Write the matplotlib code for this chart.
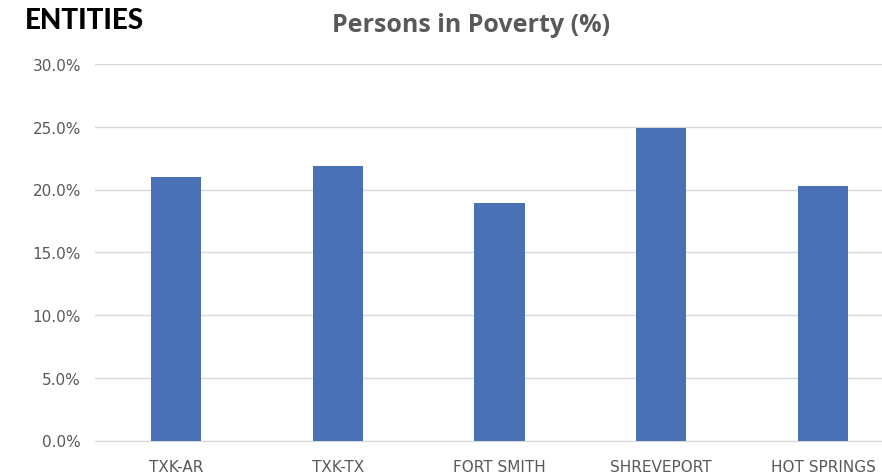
import matplotlib.pyplot as plt
from matplotlib.ticker import PercentFormatter

entities = ['TXK-AR', 'TXK-TX', 'FORT SMITH', 'SHREVEPORT', 'HOT SPRINGS']
poverty_pct = [21.0, 21.9, 18.9, 24.9, 20.3]

fig = plt.figure(figsize=(8.82, 4.77), dpi=100)
# axes runs a bit past the right edge, like the cropped original
ax = fig.add_axes([95 / 882, 1 - 441.5 / 477, 809 / 882, (441.5 - 65) / 477])

ax.bar(range(len(entities)), poverty_pct, width=0.31, color='#4a70b7', zorder=3)

ax.set_xlim(-0.5, len(entities) - 0.5)
ax.set_ylim(0, 30)
ax.set_yticks([0, 5, 10, 15, 20, 25, 30])
ax.yaxis.set_major_formatter(PercentFormatter(decimals=1))
ax.set_xticks(range(len(entities)))
ax.set_xticklabels(entities)

ax.grid(axis='y', color='#d9d9d9', linewidth=1, zorder=0)
for s in ax.spines.values():
    s.set_visible(False)
ax.spines['bottom'].set_visible(True)
ax.spines['bottom'].set_color('#d9d9d9')
ax.tick_params(length=0, colors='#595959', labelsize=11)
ax.tick_params(axis='y', pad=10)
ax.tick_params(axis='x', pad=13)

fig.text(471 / 882, 1 - 25 / 477, 'Persons in Poverty (%)', ha='center', va='center',
         fontsize=18, fontweight='bold', color='#595959', family='Open Sans')
fig.text(25 / 882, 1 - 21 / 477, 'ENTITIES', ha='left', va='center',
         fontsize=20, fontweight='black', color='black', family='Lato')

fig.savefig('out.png', dpi=100)
